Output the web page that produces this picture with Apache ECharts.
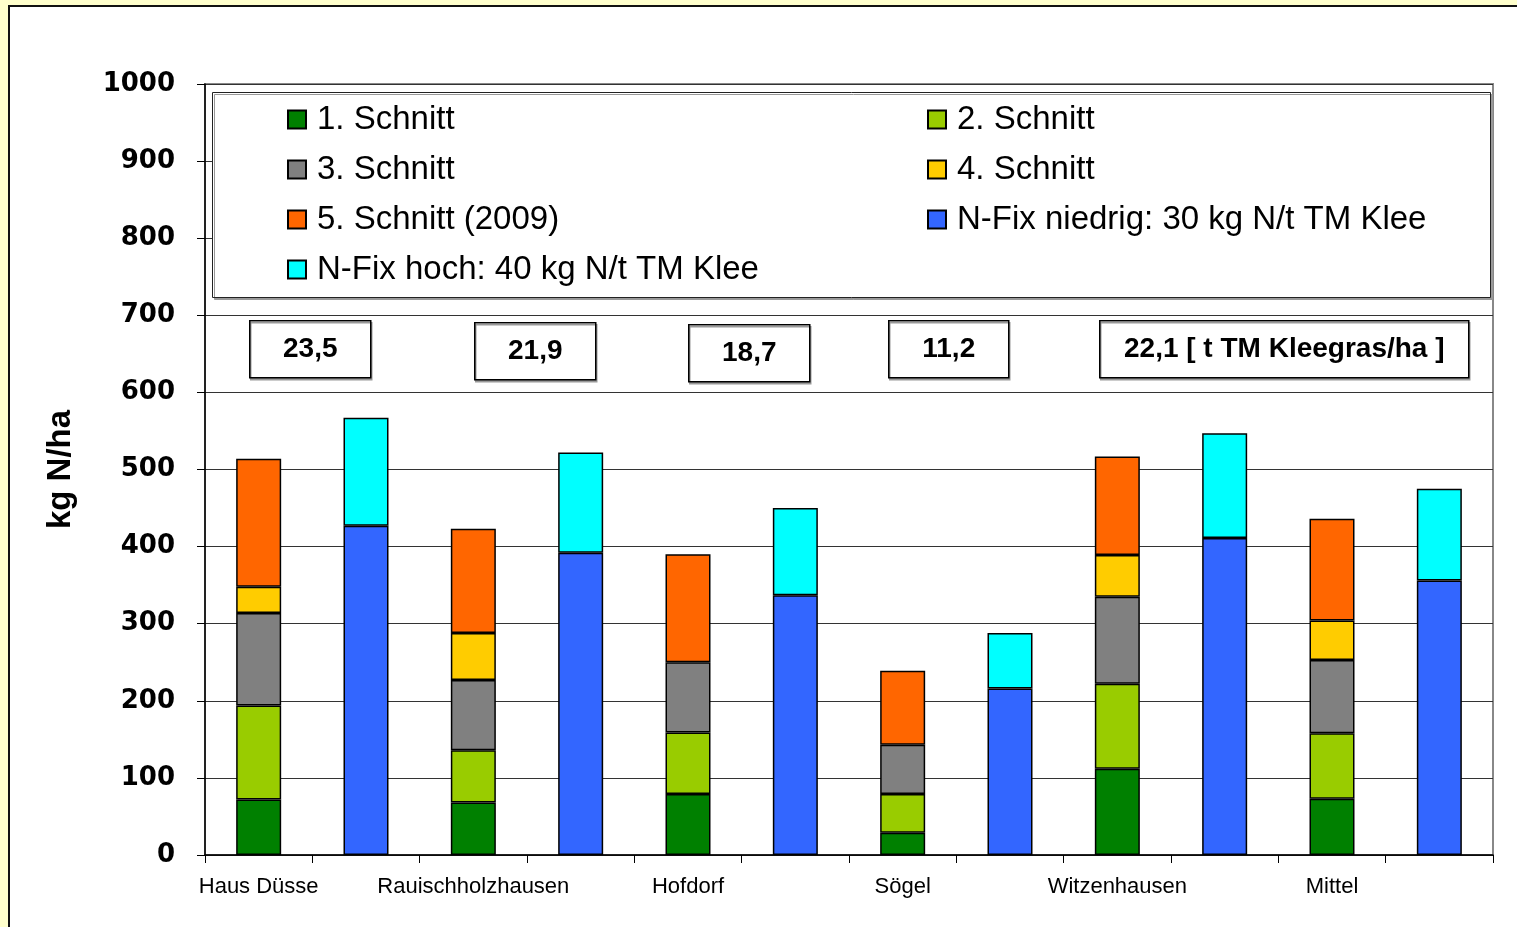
<!DOCTYPE html>
<html>
<head>
<meta charset="utf-8">
<title>Stickstoff-Bilanz Kleegras</title>
<script src="https://cdn.jsdelivr.net/npm/echarts@6/dist/echarts.min.js"></script>
<style>
  html, body { margin: 0; padding: 0; background: #FFFFCC; overflow: hidden; }
  #frame { position: absolute; left: 8px; top: 5px; width: 1600px; height: 1000px;
           background: #fff; border-left: 2px solid #111; border-top: 2px solid #111; }
  #chart { position: absolute; left: 0; top: 0; width: 1517px; height: 927px; }
</style>
</head>
<body>
<div id="frame"></div>
<div id="chart"></div>
<script>
// Standorte
const sites = ['Haus Düsse', 'Rauischholzhausen', 'Hofdorf', 'Sögel', 'Witzenhausen', 'Mittel'];

// N-Abfuhr je Schnitt (kg N/ha)
const cut1 = [72, 68, 79, 29, 112, 73];
const cut2 = [122, 68, 80, 50, 110, 85];
const cut3 = [120, 91, 91, 64, 113, 95];
const cut4 = [34, 61, null, null, 54, 51];
const cut5 = [166, 135, 140, 96, 128, 132];

// N-Fixierung (kg N/ha): niedrig und Zuschlag für hoch
const nfixLow = [427, 392, 337, 216, 411, 356];
const nfixHighExtra = [140, 130, 113, 72, 136, 119];

// Trockenmasse-Erträge
const yieldLabels = ['23,5', '21,9', '18,7', '11,2', '22,1 [ t TM Kleegras/ha ]'];

const yTicks = { min: 0, max: 1000, interval: 100 };

const seriesNames = ['1. Schnitt', '2. Schnitt', '3. Schnitt', '4. Schnitt', '5. Schnitt (2009)',
                     'N-Fix niedrig: 30 kg N/t TM Klee', 'N-Fix hoch: 40 kg N/t TM Klee'];
const seriesColors = ['#008000', '#99CC00', '#808080', '#FFCC00', '#FF6600', '#3366FF', '#00FFFF'];

// Zwei Säulen pro Standort: Schnitte (links) und N-Fixierung (rechts)
const slots = sites.flatMap(s => [s, s + ' N-Fix']);
const onCutSlots = arr => arr.flatMap(v => [v == null ? '-' : v, '-']);
const onFixSlots = arr => arr.flatMap(v => ['-', v]);

const values = [
  onCutSlots(cut1), onCutSlots(cut2), onCutSlots(cut3), onCutSlots(cut4), onCutSlots(cut5),
  onFixSlots(nfixLow), onFixSlots(nfixHighExtra)
];

const FONT = 'Liberation Sans, Arial, sans-serif';

const series = seriesNames.map((name, i) => ({
  name,
  type: 'bar',
  stack: 'n',
  barWidth: 45,
  data: values[i],
  itemStyle: { color: seriesColors[i], borderColor: '#000', borderWidth: 1.5 },
  emphasis: { disabled: true }
}));

const legendCommon = {
  orient: 'vertical',
  itemWidth: 18,
  itemHeight: 18,
  itemGap: 17,
  icon: 'rect',
  selectedMode: false,
  textStyle: { fontFamily: FONT, fontSize: 33, color: '#000', lineHeight: 33, padding: [0, 0, 0, 6] },
  padding: 0
};

// Ertragskästen
const boxes = [
  { x: 249, y: 320, w: 121, h: 57 },
  { x: 474, y: 322, w: 121, h: 57 },
  { x: 688, y: 324, w: 121, h: 57 },
  { x: 888, y: 320, w: 120, h: 57 },
  { x: 1099, y: 320, w: 369, h: 57 }
];

const graphics = [
  {
    type: 'rect', left: 212, top: 92, z: 3,
    shape: { width: 1278, height: 205 },
    style: { fill: '#fff', stroke: '#222', lineWidth: 1, shadowColor: '#999', shadowOffsetX: 2, shadowOffsetY: 2, shadowBlur: 0 }
  }
].concat(boxes.map((b, i) => ({
  type: 'group', left: b.x, top: b.y, z: 3,
  children: [
    { type: 'rect', shape: { width: b.w, height: b.h },
      style: { fill: '#fff', stroke: '#000', lineWidth: 1.5, shadowColor: '#999', shadowOffsetX: 1, shadowOffsetY: 2, shadowBlur: 0 } },
    { type: 'text', x: b.w / 2, y: b.h / 2,
      style: { text: yieldLabels[i], fontFamily: FONT, fontWeight: 'bold', fontSize: 28,
               fill: '#000', align: 'center', verticalAlign: 'middle' } }
  ]
})));

const chart = echarts.init(document.getElementById('chart'), null, { renderer: 'canvas' });
chart.setOption({
  backgroundColor: 'transparent',
  animation: false,
  grid: { left: 205, right: 24, top: 84, bottom: 72, show: true, backgroundColor: '#fff',
          borderColor: '#888', borderWidth: 2 },
  legend: [
    Object.assign({}, legendCommon, { left: 287, top: 103,
      data: [seriesNames[0], seriesNames[2], seriesNames[4], seriesNames[6]] }),
    Object.assign({}, legendCommon, { left: 927, top: 103,
      data: [seriesNames[1], seriesNames[3], seriesNames[5]] })
  ],
  xAxis: {
    type: 'category',
    data: slots,
    boundaryGap: true,
    axisLine: { lineStyle: { color: '#000', width: 1.5 } },
    axisTick: { show: true, interval: 0, length: 8, lineStyle: { color: '#000' } },
    axisLabel: {
      interval: 0, margin: 21, color: '#000', fontFamily: FONT, fontSize: 22,
      formatter: (v, i) => (i % 2 === 0 ? v : '')
    }
  },
  yAxis: {
    type: 'value',
    min: yTicks.min, max: yTicks.max, interval: yTicks.interval,
    name: 'kg N/ha',
    nameLocation: 'middle',
    nameRotate: 90,
    nameGap: 128,
    nameTextStyle: { fontFamily: FONT, fontWeight: 'bold', fontSize: 33, color: '#000' },
    axisLine: { show: true, lineStyle: { color: '#000', width: 1.5 } },
    axisTick: { show: true, length: 8, lineStyle: { color: '#000' } },
    axisLabel: { margin: 30, color: '#000', fontFamily: 'DejaVu Sans, sans-serif', fontWeight: 'bold', fontSize: 26,
                 padding: [4, 0, 0, 0], formatter: v => String(v) },
    splitLine: { show: true, lineStyle: { color: '#333', width: 1 } }
  },
  graphic: graphics,
  series
});
</script>
</body>
</html>
